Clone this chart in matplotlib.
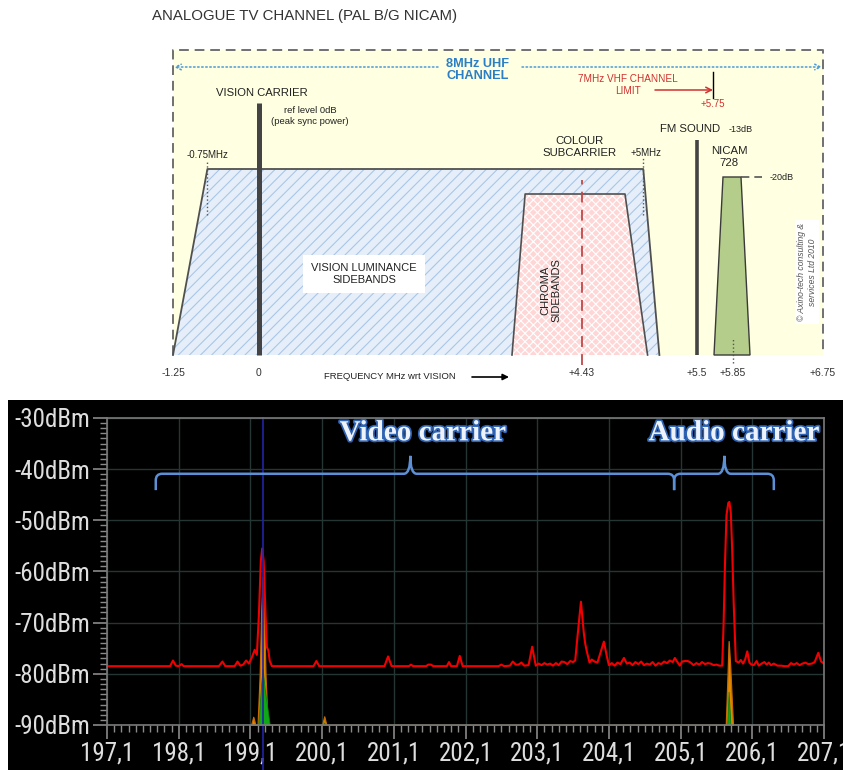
import numpy as np
import matplotlib
matplotlib.use('Agg')
import matplotlib.pyplot as plt
from matplotlib.patches import Polygon, Rectangle, PathPatch
from matplotlib.path import Path
import matplotlib.patheffects as pe
from matplotlib.ticker import MultipleLocator, FixedLocator

# ================= DATA : schematic of the PAL B/G channel =================
scale_mhz = [-1.25, 0.0, 4.43, 5.5, 5.75, 5.85, 6.75]     # schematic (non-linear) frequency axis
scale_pos = [173, 259, 582, 697, 713, 733, 823]
axis_ticks = [-1.25, 0.0, 4.43, 5.5, 5.85, 6.75]
axis_tick_labels = ['-1.25', '0', '+4.43', '+5.5', '+5.85', '+6.75']

lum_x = [-1.25, -0.75, 5.0, 5.15]        # vision luminance sidebands
lum_h = [0, 186, 186, 0]
chroma_x = [3.47, 3.65, 4.83, 5.04]      # chroma sidebands
chroma_h = [0, 161, 161, 0]
nicam_x = [5.755, 5.80, 5.93, 6.02]      # NICAM 728
nicam_h = [0, 178, 178, 0]
vision_f, vision_h = 0.0, 252
fm_f, fm_h = 5.5, 215
colour_sc = 4.43
vhf_limit = 5.75
box_lo, box_hi, box_h = -1.25, 6.75, 305

# ================= DATA : measured spectrum =================
trace_f = [197.10, 197.98, 198.02, 198.06, 198.10, 198.14, 198.17, 198.66, 198.71, 198.75,
           198.88, 198.92, 198.96, 199.00, 199.04, 199.08, 199.12, 199.16, 199.19, 199.22,
           199.245, 199.265, 199.285, 199.31, 199.33, 199.35, 199.37, 199.40, 199.98, 200.02,
           200.06, 200.97, 201.02, 201.07, 201.31, 201.34, 201.37, 201.55, 201.58, 201.62,
           201.65, 201.84, 201.87, 201.90, 201.98, 202.02, 202.06, 202.56, 202.60, 202.64,
           202.72, 202.76, 202.80, 202.84, 202.88, 202.92, 202.98, 203.03, 203.08, 203.12,
           203.16, 203.20, 203.24, 203.28, 203.32, 203.36, 203.40, 203.44, 203.48, 203.52,
           203.56, 203.60, 203.63, 203.66, 203.71, 203.75, 203.77, 203.79, 203.83, 203.86,
           203.90, 203.94, 203.98, 204.03, 204.07, 204.10, 204.14, 204.18, 204.22, 204.26,
           204.31, 204.35, 204.39, 204.43, 204.47, 204.51, 204.55, 204.59, 204.63, 204.67,
           204.71, 204.75, 204.79, 204.83, 204.87, 204.91, 204.95, 204.99, 205.02, 205.06,
           205.09, 205.12, 205.16, 205.20, 205.24, 205.28, 205.32, 205.36, 205.40, 205.44,
           205.48, 205.52, 205.56, 205.60, 205.64, 205.68, 205.70, 205.72, 205.74, 205.765,
           205.78, 205.80, 205.82, 205.84, 205.87, 205.91, 205.94, 205.97, 206.00, 206.03,
           206.06, 206.09, 206.12, 206.16, 206.19, 206.23, 206.27, 206.30, 206.33, 206.36,
           206.40, 206.45, 206.50, 206.55, 206.60, 206.64, 206.68, 206.72, 206.76, 206.80,
           206.84, 206.88, 206.93, 206.97, 207.02, 207.06, 207.10]
trace_db = [-78.5, -78.5, -77.4, -78.4, -78.5, -78.1, -78.5, -78.5, -77.6, -78.5,
            -78.5, -77.6, -78.4, -78.2, -77.4, -78.0, -76.8, -75.3, -76.3, -68.0,
            -58.0, -55.5, -58.0, -68.0, -74.8, -75.4, -77.5, -78.5, -78.5, -77.5,
            -78.5, -78.5, -76.6, -78.5, -78.5, -78.2, -78.5, -78.5, -78.2, -78.2,
            -78.5, -78.5, -77.7, -78.5, -78.5, -76.5, -78.5, -78.5, -78.2, -78.5,
            -78.4, -77.6, -78.2, -78.2, -77.8, -78.4, -78.3, -74.7, -78.4, -78.0,
            -78.3, -77.9, -78.2, -78.0, -78.4, -77.9, -78.3, -77.6, -77.7, -78.1,
            -77.5, -77.7, -77.4, -73.0, -65.9, -72.0, -74.1, -75.5, -77.8, -77.2,
            -77.6, -77.8, -76.0, -73.7, -76.5, -78.3, -77.9, -78.4, -77.8, -78.1,
            -76.9, -78.0, -77.8, -78.3, -77.7, -78.1, -77.6, -78.3, -78.0, -78.2,
            -77.7, -78.4, -77.9, -78.1, -77.6, -77.9, -77.4, -77.7, -76.9, -77.8,
            -78.4, -77.6, -77.5, -77.5, -77.8, -78.3, -77.9, -78.2, -77.7, -78.1,
            -77.9, -78.0, -78.3, -78.2, -78.4, -78.4, -70.0, -58.0, -49.0, -46.6,
            -46.4, -48.5, -56.0, -66.0, -77.5, -77.8, -77.3, -78.0, -77.2, -75.6,
            -77.8, -78.2, -78.3, -77.5, -78.4, -78.0, -77.7, -78.2, -77.8, -78.3,
            -78.0, -78.4, -78.4, -78.5, -78.5, -77.9, -78.2, -77.9, -78.3, -78.0,
            -77.8, -78.1, -78.0, -77.7, -75.9, -77.6, -78.0]

orange_f = [199.11, 199.14, 199.17, 199.20, 199.23, 199.25, 199.27, 199.29, 199.31, 199.34,
            200.10, 200.13, 200.16,
            205.73, 205.755, 205.77, 205.79, 205.83]
orange_db = [-90.0, -88.4, -90.0, -90.0, -80.0, -68.0, -61.0, -68.0, -80.0, -90.0,
             -90.0, -88.3, -90.0,
             -90.0, -80.0, -73.6, -78.0, -90.0]
green_f = [199.21, 199.25, 199.27, 199.30, 199.37, 200.12, 200.13, 200.14, 205.75, 205.77, 205.795]
green_db = [-90.0, -82.0, -79.0, -83.0, -90.0, -90.0, -89.5, -90.0, -90.0, -83.5, -90.0]

marker_f = 199.27
x_ticks = [197.1, 198.1, 199.1, 200.1, 201.1, 202.1, 203.1, 204.1, 205.1, 206.1, 207.1]
x_tick_labels = ['197,1', '198,1', '199,1', '200,1', '201,1', '202,1', '203,1',
                 '204,1', '205,1', '206,1', '207,1']
y_ticks = [-90, -80, -70, -60, -50, -40, -30]
y_tick_labels = ['-90dBm', '-80dBm', '-70dBm', '-60dBm', '-50dBm', '-40dBm', '-30dBm']

video_brace = (197.78, 201.33, 205.01)
audio_brace = (205.01, 205.71, 206.40)
video_label = (201.5, 'Video carrier')
audio_label = (205.84, 'Audio carrier')

# ================= FIGURE =================
W, H = 843, 770
fig = plt.figure(figsize=(W / 100, H / 100), dpi=100)
fig.patch.set_facecolor('white')

SANS = ['Liberation Sans', 'DejaVu Sans']
NARROW = ['Liberation Sans Narrow', 'Roboto Condensed', 'DejaVu Sans']

# ---------- schematic scale ----------
_m = np.array(scale_mhz, float)
_p = np.array(scale_pos, float)
_sl = (_p[1] - _p[0]) / (_m[1] - _m[0])
_sr = (_p[-1] - _p[-2]) / (_m[-1] - _m[-2])


def fwd(x):
    x = np.asarray(x, float)
    y = np.interp(x, _m, _p)
    y = np.where(x < _m[0], _p[0] + (x - _m[0]) * _sl, y)
    y = np.where(x > _m[-1], _p[-1] + (x - _m[-1]) * _sr, y)
    return y


def inv(y):
    y = np.asarray(y, float)
    x = np.interp(y, _p, _m)
    x = np.where(y < _p[0], _m[0] + (y - _p[0]) / _sl, x)
    x = np.where(y > _p[-1], _m[-1] + (y - _p[-1]) / _sr, x)
    return x


ax1 = fig.add_axes([0, 1 - 392 / H, 1, 392 / H])
ax1.set_xscale('function', functions=(fwd, inv))
ax1.set_xlim(float(inv(0)), float(inv(W)))
ax1.set_ylim(-37, 355)
ax1.axis('off')

plt.rcParams['hatch.linewidth'] = 0.8

# channel box
ax1.add_patch(Rectangle((box_lo, 0), box_hi - box_lo, box_h, fc='#ffffe1', ec='none', zorder=1))
ax1.plot([box_lo, box_lo, box_hi, box_hi], [0, box_h, box_h, 0], color='#707070', lw=1.4,
         dashes=(5, 3), zorder=2)

# luminance
ax1.add_patch(Polygon(list(zip(lum_x, lum_h)), closed=True, fc='#e6eff9', ec='#a9c6e8',
                      lw=0, hatch='///', zorder=3))
ax1.plot(lum_x, lum_h, color='#505050', lw=1.3, zorder=4)
# chroma
ax1.add_patch(Polygon(list(zip(chroma_x, chroma_h)), closed=True, fc='#ffd6d6', ec='white',
                      lw=0, hatch='xxxx', zorder=5))
ax1.plot(chroma_x, chroma_h, color='#505050', lw=1.2, zorder=6)
ax1.plot([colour_sc, colour_sc], [-10, 175], color='#c04848', lw=1.3, dashes=(6, 4), zorder=6)
# NICAM
ax1.add_patch(Polygon(list(zip(nicam_x, nicam_h)), closed=True, fc='#b5cd8a', ec='#3a3a3a',
                      lw=1.0, zorder=6))
ax1.plot([nicam_x[2], float(inv(762))], [nicam_h[2], nicam_h[2]], color='#555555', lw=1.2,
         dashes=(5, 3), zorder=6)
ax1.plot([5.85, 5.85], [-8, 17], color='#555555', lw=1, ls=':', zorder=7)
# carriers
ax1.plot([vision_f, vision_f], [0, vision_h], color='#444444', lw=3.6, solid_capstyle='butt', zorder=7)
ax1.plot([fm_f, fm_f], [0, fm_h], color='#444444', lw=2.6, solid_capstyle='butt', zorder=7)
# dotted markers
ax1.plot([-0.75, -0.75], [140, 193], color='#555555', lw=1, ls=':', zorder=7)
ax1.plot([5.0, 5.0], [140, 197], color='#555555', lw=1, ls=':', zorder=7)

# frequency axis arrow
ax1.annotate('', xy=(float(inv(846)), 0), xytext=(float(inv(138)), 0),
             arrowprops=dict(arrowstyle='-|>', lw=3.5, color='#3c3c3c', mutation_scale=18,
                             shrinkA=0, shrinkB=0), zorder=8)

# 8 MHz UHF arrows
ax1.annotate('', xy=(float(inv(174)), 288), xytext=(float(inv(438)), 288),
             arrowprops=dict(arrowstyle='->', lw=1.1, color='#4a9ad8', ls=':', shrinkA=0, shrinkB=0))
ax1.annotate('', xy=(float(inv(822)), 288), xytext=(float(inv(522)), 288),
             arrowprops=dict(arrowstyle='->', lw=1.1, color='#4a9ad8', ls=':', shrinkA=0, shrinkB=0))
ax1.text(float(inv(478)), 285, '8MHz UHF\nCHANNEL', color='#2a7fc6', fontweight='bold',
         fontsize=9.2, ha='center', va='center', family=SANS, linespacing=1.1)

# 7 MHz VHF limit
ax1.text(float(inv(628)), 270, '7MHz VHF CHANNEL\nLIMIT', color='#d03030', fontsize=7.2,
         ha='center', va='center', family=SANS, linespacing=1.25)
ax1.annotate('', xy=(vhf_limit, 265), xytext=(float(inv(655)), 265),
             arrowprops=dict(arrowstyle='->', lw=1.1, color='#d03030', shrinkA=0, shrinkB=0))
ax1.plot([vhf_limit, vhf_limit], [257, 283], color='black', lw=1)
ax1.text(vhf_limit, 251, '+5.75', color='#d03030', fontsize=7, ha='center', va='center', family=SANS)

# labels
ax1.text(float(inv(152)), 339, 'ANALOGUE TV CHANNEL (PAL B/G NICAM)', fontsize=10.8,
         color='#333333', ha='left', va='center', family=SANS)
ax1.text(float(inv(262)), 262, 'VISION CARRIER', fontsize=8.1, color='#222222', ha='center',
         va='center', family=SANS)
ax1.text(float(inv(310)), 239, 'ref level 0dB\n(peak sync power)', fontsize=6.8, color='#222222',
         ha='center', va='center', family=SANS, linespacing=1.2)
ax1.text(-0.75, 200, '-0.75MHz', fontsize=7, color='#222222', ha='center', va='center', family=SANS)
ax1.text(float(inv(364)), 81, 'VISION LUMINANCE\nSIDEBANDS', fontsize=8, color='#222222',
         ha='center', va='center', family=SANS, zorder=9,
         bbox=dict(fc='white', ec='none', pad=6))
ax1.text(float(inv(551)), 65, 'CHROMA\nSIDEBANDS', fontsize=8, color='#222222', rotation=90,
         ha='center', va='center', family=SANS, zorder=9)
ax1.text(float(inv(580)), 208, 'COLOUR\nSUBCARRIER', fontsize=8.2, color='#222222',
         ha='center', va='center', family=SANS, linespacing=1.15)
ax1.text(float(inv(646)), 202, '+5MHz', fontsize=7, color='#222222', ha='center', va='center', family=SANS)
ax1.text(float(inv(690)), 226, 'FM SOUND', fontsize=8.2, color='#222222', ha='center',
         va='center', family=SANS)
ax1.text(float(inv(741)), 226, '-13dB', fontsize=6.5, color='#222222', ha='center', va='center', family=SANS)
ax1.text(float(inv(729)), 198, 'NICAM\n728', fontsize=8.2, color='#222222', ha='center',
         va='center', family=SANS, linespacing=1.15)
ax1.text(float(inv(782)), 178, '-20dB', fontsize=6.5, color='#222222', ha='center', va='center', family=SANS)
ax1.text(float(inv(807)), 83, '\u00a9 Axino-tech consulting &\nservices Ltd 2010', fontsize=6.2,
         color='#555555', rotation=90, style='italic', ha='center', va='center', family=SANS,
         zorder=9, bbox=dict(fc='white', ec='none', pad=2))
for f, lab in zip(axis_ticks, axis_tick_labels):
    ax1.text(f, -18, lab, fontsize=7.5, color='#333333', ha='center', va='center', family=SANS)
ax1.text(float(inv(390)), -22, 'FREQUENCY MHz wrt VISION', fontsize=6.8, color='#222222',
         ha='center', va='center', family=SANS)
ax1.annotate('', xy=(float(inv(509)), -22), xytext=(float(inv(472)), -22),
             arrowprops=dict(arrowstyle='-|>', lw=1.2, color='black', shrinkA=0, shrinkB=0,
                             mutation_scale=9))

# ---------- spectrum ----------
fig.add_artist(Rectangle((8 / W, 0), 1 - 8 / W, 370 / H, transform=fig.transFigure,
                         fc='black', ec='none', zorder=0))

ax2 = fig.add_axes([107 / W, (H - 725) / H, 717 / W, 307 / H])
ax2.set_facecolor('black')
ax2.set_xlim(197.1, 207.1)
ax2.set_ylim(-90, -30)
ax2.xaxis.set_major_locator(FixedLocator(x_ticks))
ax2.yaxis.set_major_locator(FixedLocator(y_ticks))
ax2.set_xticklabels(x_tick_labels, family=NARROW)
ax2.set_yticklabels(y_tick_labels, family=NARROW)
ax2.xaxis.set_minor_locator(MultipleLocator(0.1))
ax2.yaxis.set_minor_locator(MultipleLocator(1))
ax2.grid(True, which='major', color='#243533', lw=1.0)
ax2.set_axisbelow(True)
for s in ax2.spines.values():
    s.set_color('#7a7a7a')
    s.set_linewidth(1.2)
    s.set_zorder(9)
ax2.tick_params(which='major', length=10, width=1.2, color='#8a8a8a', labelcolor='#dedede',
                labelsize=18, pad=2)
ax2.tick_params(which='minor', length=5, width=1.0, color='#8a8a8a')

ax2.fill_between(orange_f, orange_db, -90, fc='#e08a00', ec='#c86a00', lw=0.9, zorder=3)
ax2.fill_between(green_f, green_db, -90, fc='#10a818', ec='#0c8010', lw=0.6, zorder=4)
ax2.plot(trace_f, trace_db, color='#f00000', lw=1.5, zorder=5)
ax2.plot([marker_f, marker_f], [-30, -99], color='#2222a8', lw=1.2, clip_on=False, zorder=6)


def brace(ax, x0, xc, x1, yl=-40.9, yt=-37.4, yb=-44.1, rx=0.09, ry=1.3):
    verts = [(x0, yb), (x0, yl - ry), (x0, yl), (x0 + rx, yl), (xc - rx, yl), (xc, yl), (xc, yt),
             (xc, yl), (xc + rx, yl), (x1 - rx, yl), (x1, yl), (x1, yl - ry), (x1, yb)]
    codes = [Path.MOVETO, Path.LINETO, Path.CURVE3, Path.CURVE3, Path.LINETO, Path.CURVE3,
             Path.CURVE3, Path.CURVE3, Path.CURVE3, Path.LINETO, Path.CURVE3, Path.CURVE3, Path.LINETO]
    ax.add_patch(PathPatch(Path(verts, codes), fc='none', ec='#5b8fd6', lw=1.8, zorder=7))


brace(ax2, *video_brace)
brace(ax2, *audio_brace)
for xc, lab in (video_label, audio_label):
    ax2.text(xc, -32.9, lab, family=['Liberation Serif', 'DejaVu Serif'], fontweight='bold',
             fontsize=21, color='#eef3fb', ha='center', va='center', zorder=8,
             path_effects=[pe.withStroke(linewidth=2.5, foreground='#2f62b0')])

fig.savefig('out.png', dpi=100, facecolor='white')
